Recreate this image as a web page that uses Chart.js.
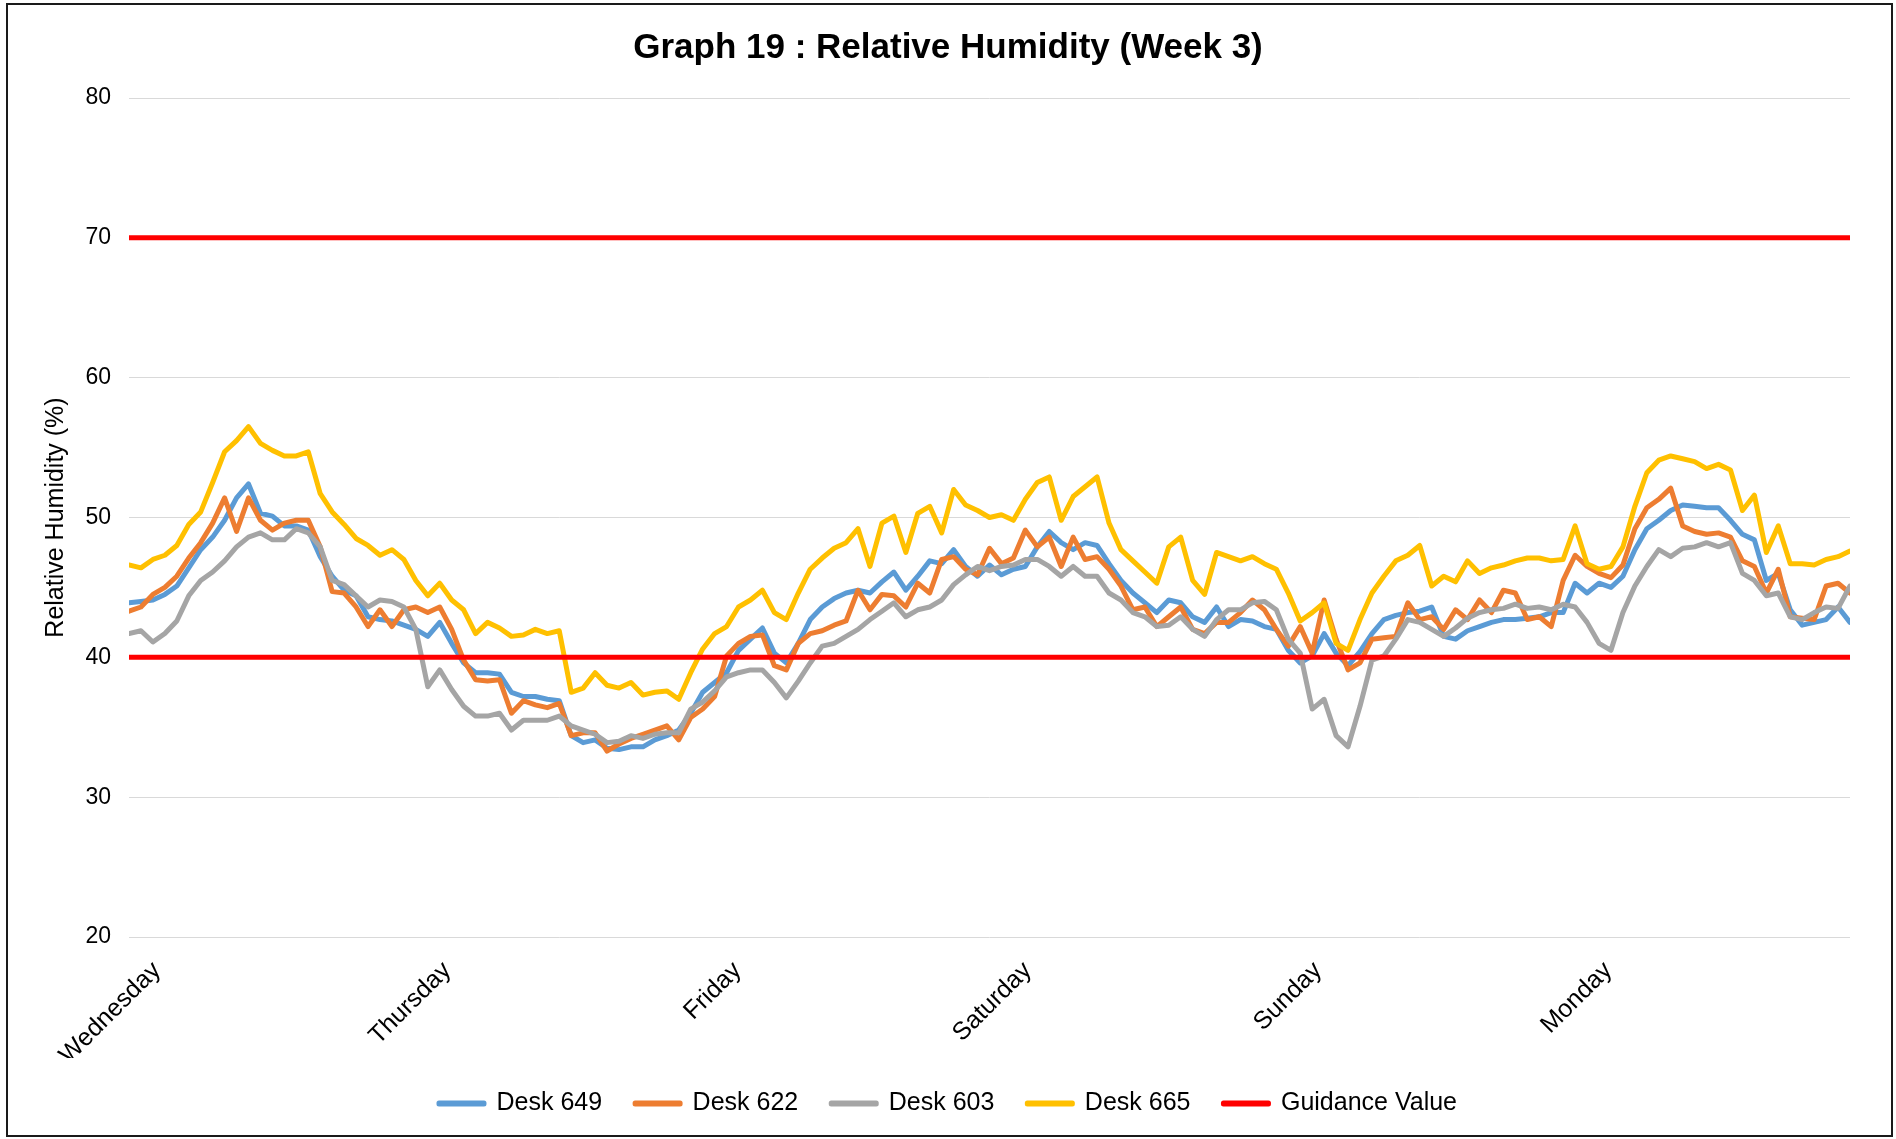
<!DOCTYPE html>
<html>
<head>
<meta charset="utf-8">
<title>Graph 19 : Relative Humidity (Week 3)</title>
<script src="https://cdn.jsdelivr.net/npm/chart.js@4.4.1/dist/chart.umd.min.js"></script>
<style>
  html, body { margin: 0; padding: 0; background: #ffffff; }
  canvas { display: block; }
</style>
</head>
<body>
<canvas id="graficoUmidade" width="1896" height="1139"></canvas>
<script>
// dias mostrados no eixo x (um rotulo a cada 24 horas)
var dias = ['Wednesday', 'Thursday', 'Friday', 'Saturday', 'Sunday', 'Monday'];

// a semana lida vai de quarta 00h ate terca ~22h20 (142,3 horas), 145 leituras igualmente espacadas
var fimHoras = 142.3;
var horas = [];
for (var k = 0; k <= 144; k++) { horas.push(k * fimHoras / 144); }

var desk649 = [
  43.9,44.0,44.1,44.5,45.1,46.4,47.7,48.6,49.8,51.4,52.4,50.3,50.1,49.4,49.4,49.1,47.2,45.8,44.8,44.4,42.9,42.7,42.6,42.3,
  42.0,
  41.5,42.5,41.0,39.6,38.9,38.9,38.8,37.5,37.2,37.2,37.0,36.9,34.4,33.9,34.1,33.5,33.4,33.6,33.6,34.1,34.4,34.8,36.0,
  37.5,
  38.2,38.9,40.5,41.3,42.1,40.3,39.6,41.0,42.7,43.6,44.2,44.6,44.8,44.6,45.4,46.1,44.8,45.8,46.9,46.7,47.7,46.5,45.8,
  46.6,
  45.9,46.3,46.5,47.9,49.0,48.2,47.7,48.2,48.0,46.7,45.5,44.6,43.9,43.2,44.1,43.9,42.9,42.5,43.6,42.2,42.7,42.6,42.2,
  42.0,
  40.5,39.6,40.1,41.7,40.3,39.4,40.4,41.7,42.7,43.0,43.2,43.3,43.6,41.5,41.3,41.9,42.2,42.5,42.7,42.7,42.8,42.9,43.2,
  43.2,
  45.3,44.6,45.3,45.0,45.8,47.7,49.2,49.8,50.5,50.9,50.8,50.7,50.7,49.8,48.8,48.4,45.5,46.0,43.4,42.3,42.5,42.7,43.6,42.5
];
var desk622 = [
  43.3,43.6,44.5,45.0,45.8,47.1,48.2,49.6,51.4,49.0,51.4,49.8,49.1,49.6,49.8,49.8,47.9,44.7,44.6,43.6,42.2,43.4,42.2,43.4,
  43.6,
  43.2,43.6,42.0,39.8,38.4,38.3,38.4,36.0,36.9,36.6,36.4,36.7,34.4,34.6,34.6,33.3,33.8,34.2,34.5,34.8,35.1,34.1,35.7,
  36.3,
  37.2,40.1,41.0,41.5,41.6,39.4,39.1,41.0,41.7,41.9,42.3,42.6,44.8,43.4,44.5,44.4,43.6,45.3,44.6,47.0,47.2,46.3,45.9,
  47.8,
  46.7,47.1,49.1,47.9,48.6,46.5,48.6,47.0,47.2,46.3,45.1,43.4,43.6,42.2,42.9,43.6,42.0,41.7,42.5,42.5,43.2,44.1,43.4,
  42.0,
  40.8,42.2,40.3,44.1,41.3,39.1,39.6,41.3,41.4,41.5,43.9,42.7,42.9,42.0,43.4,42.7,44.1,43.2,44.8,44.6,42.7,42.9,42.2,
  45.5,
  47.3,46.5,46.0,45.7,46.6,49.2,50.7,51.3,52.1,49.4,49.0,48.8,48.9,48.6,46.9,46.5,44.6,46.3,42.9,42.8,42.7,45.1,45.3,44.6
];
var desk603 = [
  41.7,41.9,41.1,41.7,42.6,44.4,45.5,46.1,46.9,47.9,48.6,48.9,48.4,48.4,49.2,48.9,47.9,45.5,45.2,44.4,43.6,44.1,44.0,43.6,
  42.0,
  37.9,39.1,37.7,36.5,35.8,35.8,36.0,34.8,35.5,35.5,35.5,35.8,35.1,34.8,34.5,33.9,34.0,34.4,34.2,34.5,34.6,34.6,36.3,
  36.8,
  37.6,38.6,38.9,39.1,39.1,38.2,37.1,38.3,39.6,40.8,41.0,41.5,42.0,42.7,43.3,43.9,42.9,43.4,43.6,44.1,45.2,45.9,46.5,
  46.2,
  46.5,46.6,47.0,47.0,46.5,45.8,46.5,45.8,45.8,44.6,44.1,43.2,42.9,42.2,42.3,42.9,42.0,41.5,42.7,43.4,43.4,43.9,44.0,
  43.4,
  41.3,40.3,36.3,37.0,34.4,33.6,36.5,39.8,40.1,41.3,42.7,42.5,42.0,41.5,42.1,42.8,43.2,43.4,43.5,43.8,43.5,43.6,43.4,
  43.8,
  43.6,42.5,41.0,40.5,43.2,45.1,46.5,47.7,47.2,47.8,47.9,48.2,47.9,48.2,46.0,45.5,44.4,44.6,42.9,42.7,43.2,43.6,43.5,45.1
];
var desk665 = [
  46.6,46.4,47.0,47.3,48.0,49.5,50.4,52.5,54.7,55.5,56.5,55.3,54.8,54.4,54.4,54.7,51.7,50.4,49.5,48.5,48.0,47.3,47.7,47.0,
  45.5,
  44.4,45.3,44.1,43.4,41.7,42.5,42.1,41.5,41.6,42.0,41.7,41.9,37.5,37.8,38.9,38.0,37.8,38.2,37.3,37.5,37.6,37.0,38.9,
  40.6,
  41.7,42.2,43.6,44.1,44.8,43.2,42.7,44.6,46.3,47.1,47.8,48.2,49.2,46.5,49.6,50.1,47.5,50.3,50.8,48.9,52.0,50.9,50.5,
  50.0,
  50.2,49.8,51.3,52.5,52.9,49.8,51.5,52.2,52.9,49.6,47.7,46.9,46.1,45.3,47.9,48.6,45.5,44.5,47.5,47.2,46.9,47.2,46.7,
  46.3,
  44.6,42.6,43.2,43.9,41.0,40.5,42.7,44.6,45.8,46.9,47.3,48.0,45.1,45.8,45.4,46.9,46.0,46.4,46.6,46.9,47.1,47.1,46.9,
  47.0,
  49.4,46.7,46.3,46.5,47.9,50.8,53.2,54.1,54.4,54.2,54.0,53.5,53.8,53.4,50.5,51.6,47.5,49.4,46.7,46.7,46.6,47.0,47.2,47.6
];
// limites de orientacao (linhas vermelhas)
var guidance = [70, 40];

var fonte = 'Liberation Sans, Arial, sans-serif';

function pontos(valores) {
  return horas.map(function (hora, i) { return { x: hora, y: valores[i] }; });
}

// as duas linhas de orientacao ficam na mesma serie, separadas por um ponto vazio
var pontosGuidance = [];
guidance.forEach(function (valor, i) {
  if (i > 0) { pontosGuidance.push({ x: fimHoras, y: null }); }
  pontosGuidance.push({ x: 0, y: valor });
  pontosGuidance.push({ x: fimHoras, y: valor });
});

function serie(nome, dados, cor, ordem, largura) {
  return {
    label: nome,
    data: dados,
    borderColor: cor,
    backgroundColor: cor,
    borderWidth: largura,
    pointRadius: 0,
    tension: 0,
    fill: false,
    spanGaps: false,
    borderJoinStyle: 'round',
    borderCapStyle: 'round',
    order: ordem
  };
}

var moldura = {
  id: 'moldura',
  beforeDraw: function (chart) {
    var ctx = chart.ctx;
    ctx.save();
    ctx.fillStyle = '#ffffff';
    ctx.fillRect(0, 0, chart.width, chart.height);
    ctx.restore();
  },
  afterDraw: function (chart) {
    var ctx = chart.ctx;
    ctx.save();
    ctx.strokeStyle = '#1a1a1a';
    ctx.lineWidth = 2;
    ctx.strokeRect(7, 4, chart.width - 11, chart.height - 7);
    ctx.restore();
  }
};

var grafico = document.getElementById('graficoUmidade').getContext('2d');
var criarGrafico = new Chart(grafico, {
  type: 'line',
  data: {
    datasets: [
      serie('Desk 649', pontos(desk649), '#5B9BD5', 4, 5),
      serie('Desk 622', pontos(desk622), '#ED7D31', 3, 5),
      serie('Desk 603', pontos(desk603), '#A5A5A5', 2, 5),
      serie('Desk 665', pontos(desk665), '#FFC000', 1, 5),
      serie('Guidance Value', pontosGuidance, '#FF0000', 0, 5)
    ]
  },
  options: {
    responsive: false,
    animation: false,
    devicePixelRatio: 1,
    layout: { padding: { top: 0, right: 0, bottom: 13, left: 0 } },
    plugins: {
      title: {
        display: true,
        text: 'Graph 19 : Relative Humidity (Week 3)',
        color: '#000000',
        font: { family: fonte, size: 35, weight: 'bold' },
        padding: { top: 27, bottom: 29 }
      },
      legend: {
        position: 'bottom',
        reverse: true,
        labels: {
          boxWidth: 45,
          boxHeight: 1,
          padding: 33,
          color: '#000000',
          font: { family: fonte, size: 25 }
        }
      },
      tooltip: { enabled: false }
    },
    scales: {
      x: {
        type: 'linear',
        min: 0,
        max: fimHoras,
        grid: { display: false, drawTicks: false },
        border: { display: false },
        ticks: {
          stepSize: 24,
          autoSkip: false,
          minRotation: 45,
          maxRotation: 45,
          padding: 19,
          labelOffset: 28,
          color: '#000000',
          font: { family: fonte, size: 25 },
          callback: function (valor) { return dias[valor / 24] || ''; }
        },
        afterFit: function (scale) { scale.height = 121; }
      },
      y: {
        min: 20,
        max: 80,
        grid: { color: '#d9d9d9', lineWidth: 1, drawTicks: false },
        border: { display: false },
        ticks: {
          stepSize: 10,
          padding: 18,
          color: '#000000',
          font: { family: fonte, size: 23 }
        },
        title: {
          display: true,
          text: 'Relative Humidity (%)',
          color: '#000000',
          font: { family: fonte, size: 25 },
          padding: { top: 41, bottom: 0 }
        },
        afterFit: function (scale) { scale.width = 129; }
      },
      // margem da direita, sem marcas
      margem: {
        type: 'linear',
        position: 'right',
        min: 20,
        max: 80,
        grid: { display: false, drawTicks: false },
        border: { display: false },
        ticks: { display: false },
        afterFit: function (scale) { scale.width = 46; }
      }
    }
  },
  plugins: [moldura]
});
</script>
</body>
</html>
